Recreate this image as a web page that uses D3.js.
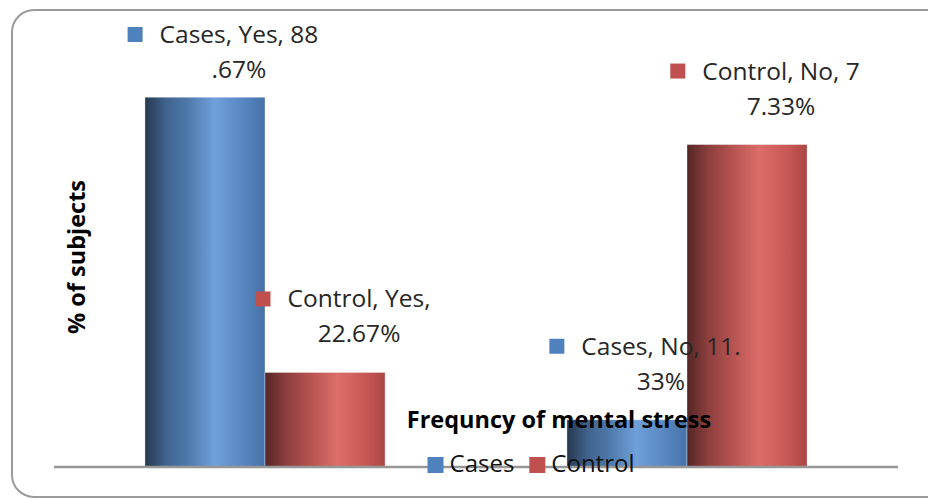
<!DOCTYPE html>
<html>
<head>
<meta charset="utf-8">
<script src="https://cdn.jsdelivr.net/npm/d3@7"></script>
<style>
  html, body { margin: 0; padding: 0; background: #ffffff; }
  svg { display: block; }
  text { font-family: "Open Sans", Lato, "Liberation Sans", sans-serif; }
</style>
</head>
<body>
<svg id="chart" width="928" height="499"></svg>
<script>
// Frequency of mental stress: share of subjects answering Yes / No
const categories = ["Yes", "No"];
const seriesNames = ["Cases", "Control"];
const casesValues = [88.67, 11.33];
const controlValues = [22.67, 77.33];
const yAxisTitle = "% of subjects";
const xAxisTitle = "Frequncy of mental stress";

const seriesValues = { Cases: casesValues, Control: controlValues };
const keyColor = { Cases: "#4f81bd", Control: "#c0504d" };

const svg = d3.select("#chart");
const defs = svg.append("defs");

// cylinder-like horizontal shading for each series
const shades = {
  Cases: [[0, "#27384f"], [0.18, "#41648f"], [0.35, "#4d78aa"], [0.58, "#6fa0da"], [0.82, "#5786c0"], [1, "#4672a7"]],
  Control: [[0, "#552626"], [0.18, "#8d3f3e"], [0.35, "#b0504e"], [0.6, "#dc6d6a"], [0.85, "#c65754"], [1, "#a94644"]]
};
Object.entries(shades).forEach(([name, stops]) => {
  const g = defs.append("linearGradient").attr("id", "grad-" + name)
    .attr("x1", 0).attr("x2", 1).attr("y1", 0).attr("y2", 0);
  stops.forEach(([o, c]) => g.append("stop").attr("offset", o).attr("stop-color", c));
});

// chart frame
svg.append("rect")
  .attr("x", 12).attr("y", 10).attr("width", 940).attr("height", 487)
  .attr("rx", 22).attr("ry", 22)
  .attr("fill", "#ffffff").attr("stroke", "#9a9a9a").attr("stroke-width", 2);

const plot = { left: 54, right: 898, bottom: 467, top: 50 };

const x0 = d3.scaleBand().domain(categories)
  .range([plot.left, plot.right]).paddingInner(0.431).paddingOuter(0.2155);
const x1 = d3.scaleBand().domain(seriesNames).range([0, x0.bandwidth()]);
const y = d3.scaleLinear().domain([0, 100]).range([plot.bottom, plot.top]);

const rows = [];
categories.forEach((cat, i) => {
  seriesNames.forEach(s => rows.push({ cat, series: s, value: seriesValues[s][i] }));
});

// bars
svg.append("g").selectAll("rect").data(rows).join("rect")
  .attr("x", d => x0(d.cat) + x1(d.series))
  .attr("y", d => y(d.value))
  .attr("width", x1.bandwidth())
  .attr("height", d => y(0) - y(d.value))
  .attr("fill", d => `url(#grad-${d.series})`)
  .attr("stroke", "rgba(255,255,255,0.35)").attr("stroke-width", 1);

// category axis line
const xAxis = d3.axisBottom(x0).tickSize(0).tickFormat("");
const gx = svg.append("g").attr("transform", `translate(0,${plot.bottom})`).call(xAxis);
gx.select(".domain").attr("stroke", "#979797").attr("stroke-width", 2.5)
  .attr("d", `M${plot.left},0H${plot.right}`);

// axis titles
svg.append("text")
  .attr("x", 559).attr("y", 428)
  .attr("text-anchor", "middle")
  .attr("font-size", 23.5).attr("font-weight", 700).attr("fill", "#000")
  .text(xAxisTitle);

svg.append("text")
  .attr("transform", "translate(85,257) rotate(-90)")
  .attr("text-anchor", "middle")
  .attr("font-size", 23.5).attr("font-weight", 700).attr("fill", "#000")
  .text(yAxisTitle);

// data labels: "Series, Category, value%" wrapped at 14 characters, key square before first line
const lineLen = 14, lineGap = 35, labelSize = 24.5;
function wrapLabel(str) {
  const lines = [];
  let rest = str;
  while (rest.length > lineLen) {
    lines.push(rest.slice(0, lineLen).trimEnd());
    rest = rest.slice(lineLen).trimStart();
  }
  lines.push(rest);
  return lines;
}

const labels = svg.append("g");
rows.forEach(d => {
  const lines = wrapLabel(`${d.series}, ${d.cat}, ${d.value}%`);
  const cx = x0(d.cat) + x1(d.series) + x1.bandwidth() / 2 + 34;
  let firstBase = y(d.value) - 30 - lineGap * (lines.length - 1);
  firstBase = Math.max(firstBase, 43);
  const g = labels.append("g");
  let firstWidth = 0;
  lines.forEach((ln, k) => {
    const t = g.append("text")
      .attr("x", cx).attr("y", firstBase + k * lineGap)
      .attr("text-anchor", "middle")
      .attr("font-size", labelSize).attr("fill", "#262626")
      .text(ln);
    if (k === 0) firstWidth = t.node().getComputedTextLength();
  });
  g.append("rect")
    .attr("x", cx - firstWidth / 2 - 32).attr("y", firstBase - 16)
    .attr("width", 15).attr("height", 15)
    .attr("fill", keyColor[d.series]);
});

// legend
const legend = svg.append("g");
let lx = 0;
seriesNames.forEach(s => {
  const item = legend.append("g").attr("transform", `translate(${lx},0)`);
  item.append("rect").attr("x", 0).attr("y", -15).attr("width", 16).attr("height", 16)
    .attr("fill", keyColor[s]);
  const t = item.append("text").attr("x", 22).attr("y", 0)
    .attr("font-size", 24).attr("fill", "#111").text(s);
  lx += 22 + t.node().getComputedTextLength() + 15;
});
const legendWidth = lx - 15;
legend.attr("transform", `translate(${531 - legendWidth / 2},472)`);
</script>
</body>
</html>
